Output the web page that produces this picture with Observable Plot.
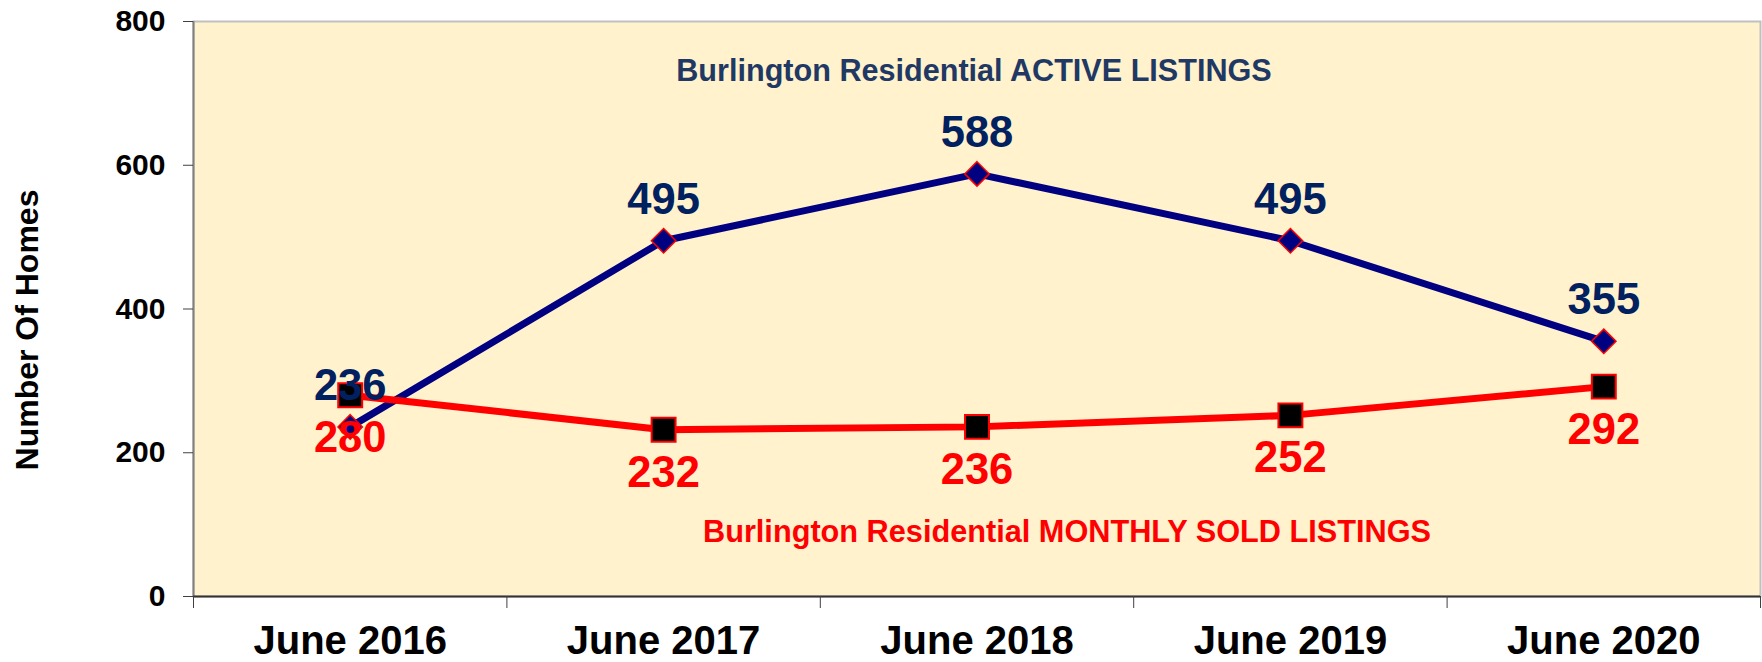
<!DOCTYPE html>
<html><head><meta charset="utf-8">
<script src="https://cdn.jsdelivr.net/npm/d3@7"></script>
<script src="https://cdn.jsdelivr.net/npm/@observablehq/plot@0.6"></script>
<style>html,body{margin:0;padding:0;background:#fff;} svg{display:block}</style>
</head><body><div id="chart"></div>
<script>
const categories = ["June 2016", "June 2017", "June 2018", "June 2019", "June 2020"];
const activeListings = [236, 495, 588, 495, 355];
const soldListings = [280, 232, 236, 252, 292];
const yTicks = [0, 200, 400, 600, 800];
const activeTitle = "Burlington Residential ACTIVE LISTINGS";
const soldTitle = "Burlington Residential MONTHLY SOLD LISTINGS";
const yLabel = "Number Of Homes";

const n = categories.length;
const active = categories.map((c, i) => ({i, category: c, value: activeListings[i]}));
const sold = categories.map((c, i) => ({i, category: c, value: soldListings[i]}));
const boundaries = d3.range(n + 1).map(k => k - 0.5);
const centers = d3.range(n);

const chart = Plot.plot({
  width: 1762, height: 662,
  marginLeft: 193, marginRight: 2, marginTop: 21, marginBottom: 66,
  style: {fontFamily: "'Liberation Sans', Arial, sans-serif", fontWeight: "bold", background: "#fff", color: "#000"},
  x: {type: "linear", domain: [-0.5, n - 0.5]},
  y: {domain: [0, 800]},
  marks: [
    Plot.frame({fill: "#FFF2CC", stroke: "#c0c0c0", strokeWidth: 2}),
    Plot.ruleX([-0.5], {stroke: "#808080", strokeWidth: 2}),
    Plot.ruleY([0], {stroke: "#333333", strokeWidth: 2}),
    Plot.axisY({ticks: yTicks, tickSize: 10, tickPadding: 18, fontSize: 30, fontWeight: "bold", stroke: "#404040", fill: "#000", label: null}),
    Plot.axisX({ticks: boundaries, tickSize: 12, tickFormat: () => "", stroke: "#404040", label: null}),
    Plot.axisX({ticks: centers, tickSize: 0, tickPadding: 29, tickFormat: i => categories[i], fontSize: 40, fontWeight: "bold", fill: "#000", label: null}),
    Plot.text([yLabel], {text: d => d, frameAnchor: "left", dx: -166, dy: 21, rotate: -90, textAnchor: "middle", lineAnchor: "middle", fontSize: 32, fontWeight: "bold", fill: "#000"}),
    Plot.text([activeTitle], {text: d => d, frameAnchor: "top", dx: -3, dy: 38, lineAnchor: "top", fontSize: 30.6, fontWeight: "bold", fill: "#1F3864"}),
    Plot.text([soldTitle], {text: d => d, frameAnchor: "bottom", dx: 90, dy: -76, lineAnchor: "top", fontSize: 30.7, fontWeight: "bold", fill: "#ff0000"}),
    Plot.line(active, {x: "i", y: "value", stroke: "#000080", strokeWidth: 7}),
    Plot.line(sold, {x: "i", y: "value", stroke: "#ff0000", strokeWidth: 7}),
    Plot.dot(active, {x: "i", y: "value", symbol: "diamond2", r: 11, fill: "#000080", stroke: "#ff0000", strokeWidth: 1.5}),
    Plot.dot(sold, {x: "i", y: "value", symbol: "square", r: 13.5, fill: "#000000", stroke: "#ff0000", strokeWidth: 2}),
    Plot.text(active, {x: "i", y: "value", text: d => String(d.value), dy: -41, lineAnchor: "middle", fontSize: 43.5, fontWeight: "bold", fill: "#002060"}),
    Plot.text(sold, {x: "i", y: "value", text: d => String(d.value), dy: 43, lineAnchor: "middle", fontSize: 43.5, fontWeight: "bold", fill: "#ff0000"})
  ]
});
document.getElementById("chart").appendChild(chart);
</script>
</body></html>
